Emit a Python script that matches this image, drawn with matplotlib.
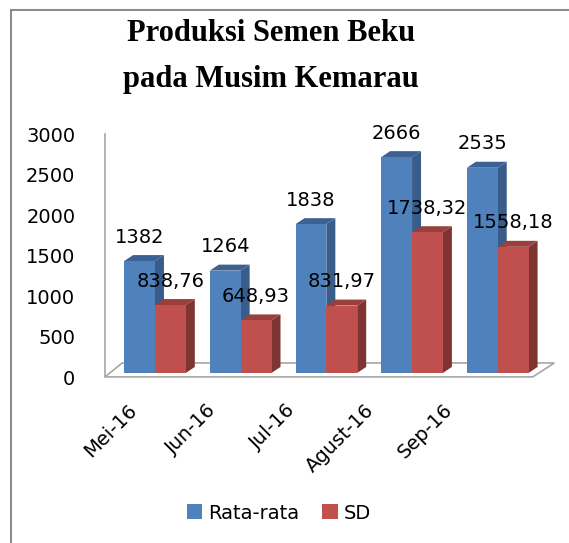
import numpy as np
import matplotlib
matplotlib.use("Agg")
import matplotlib.pyplot as plt
import matplotlib.transforms as mtransforms
from matplotlib.patches import Polygon, Patch
from matplotlib.lines import Line2D

# data
bulan = ["Mei-16", "Jun-16", "Jul-16", "Agust-16", "Sep-16"]
rata_rata = [1382, 1264, 1838, 2666, 2535]
sd = [838.76, 648.93, 831.97, 1738.32, 1558.18]
label_rata = ["1382", "1264", "1838", "2666", "2535"]
label_sd = ["838,76", "648,93", "831,97", "1738,32", "1558,18"]

blue, blue_side, blue_top = "#4F81BD", "#385D8A", "#3B6293"
red, red_side, red_top = "#C0504D", "#7E3431", "#9A3F3C"

fig = plt.figure(figsize=(5.69, 5.43), dpi=100)
ax = fig.add_axes([0.1594, 0.2983, 0.8283, 0.477])

x = np.arange(len(bulan))
w = 0.36
dx, dy = 0.105, 74   # fake depth of the columns

# floor + left wall (3D look)
fl, fr, fy0, fy1, fdx = -0.583, 4.41, -49, 123, 0.25
ax.add_patch(Polygon([(fl, fy0), (fr, fy0), (fr + fdx, fy1), (fl + 0.2, fy1)],
                     closed=True, facecolor="white", edgecolor="#A6A6A6", lw=1.2, zorder=1))
ax.plot([fl, fl], [fy0, 2950], color="#A6A6A6", lw=1.2, zorder=1)

def bar3d(x0, h, front, side, top, z):
    x1 = x0 + w
    ax.add_patch(Polygon([(x1, 0), (x1 + dx, dy), (x1 + dx, h + dy), (x1, h)],
                         closed=True, facecolor=side, edgecolor="none", zorder=z))
    ax.add_patch(Polygon([(x0, h), (x1, h), (x1 + dx, h + dy), (x0 + dx, h + dy)],
                         closed=True, facecolor=top, edgecolor="none", zorder=z))
    ax.bar(x0, h, width=w, align="edge", color=front, zorder=z + 0.5)

for i in range(len(bulan)):
    bar3d(x[i] - w, rata_rata[i], blue, blue_side, blue_top, 2 + i * 3)
    bar3d(x[i], sd[i], red, red_side, red_top, 3.2 + i * 3)

for i in range(len(bulan)):
    ax.annotate(label_rata[i], (x[i] - w / 2, rata_rata[i] + dy), xytext=(0, 6),
                textcoords="offset points", ha="center", va="bottom", fontsize=14, zorder=30)
    ax.annotate(label_sd[i], (x[i] + w / 2, sd[i] + dy), xytext=(0, 6),
                textcoords="offset points", ha="center", va="bottom", fontsize=14, zorder=30)

ax.set_xlim(-0.75, 4.75)
ax.set_ylim(-100, 3100)
ax.set_yticks(np.arange(0, 3001, 500))
ax.tick_params(axis="y", length=0, pad=11, labelsize=14)
shift = mtransforms.ScaledTranslation(0, -3 / 72, fig.dpi_scale_trans)
for lab in ax.get_yticklabels():
    lab.set_transform(lab.get_transform() + shift)
ax.set_xticks(0.92 * x - 0.32)
ax.set_xticklabels(bulan, rotation=45, ha="right", rotation_mode="anchor", fontsize=14)
ax.tick_params(axis="x", length=0, pad=14)
for s in ax.spines.values():
    s.set_visible(False)
ax.patch.set_alpha(0)

fig.text(0.476, 1 - 41 / 543, "Produksi Semen Beku", ha="center", va="baseline",
         fontsize=22, fontweight="bold", family="Liberation Serif")
fig.text(0.476, 1 - 87 / 543, "pada Musim Kemarau", ha="center", va="baseline",
         fontsize=22, fontweight="bold", family="Liberation Serif")

handles = [Patch(facecolor=blue), Patch(facecolor=red)]
fig.legend(handles, ["Rata-rata", "SD"], loc="center", bbox_to_anchor=(0.49, 0.055),
           ncol=2, frameon=False, fontsize=14, handlelength=0.8, handleheight=0.8,
           handletextpad=0.3, columnspacing=1.2)

# outer frame (only left and top visible)
fig.add_artist(Line2D([11 / 569, 11 / 569], [0, 1 - 10 / 543], color="#8C8C8C", lw=1.5))
fig.add_artist(Line2D([11 / 569, 1], [1 - 10 / 543, 1 - 10 / 543], color="#8C8C8C", lw=1.5))

fig.savefig("out.png", dpi=100)
